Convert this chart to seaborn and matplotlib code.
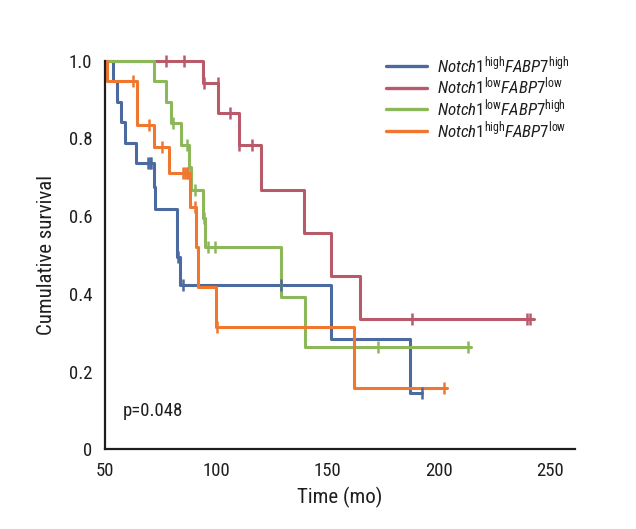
import numpy as np
import pandas as pd
import matplotlib
matplotlib.use("Agg")
import matplotlib.pyplot as plt
import seaborn as sns

# ---- data ----
groups = ["hh", "ll", "lh", "hl"]
legend_labels = [
    r"$\mathit{Notch1}^{\mathrm{high}}\mathit{FABP7}^{\mathrm{high}}$",
    r"$\mathit{Notch1}^{\mathrm{low}}\mathit{FABP7}^{\mathrm{low}}$",
    r"$\mathit{Notch1}^{\mathrm{low}}\mathit{FABP7}^{\mathrm{high}}$",
    r"$\mathit{Notch1}^{\mathrm{high}}\mathit{FABP7}^{\mathrm{low}}$",
]
colors = ["#4b6aa0", "#b95a6a", "#8db85a", "#f0772f"]

hh_time = [50, 53.7, 55.5, 57.0, 59.0, 63.8, 71.8, 72.6, 82.5, 83.6, 151.3, 187.0, 192.5]
hh_surv = [1.0, 0.947, 0.895, 0.842, 0.789, 0.737, 0.676, 0.618, 0.494, 0.423, 0.283, 0.144, 0.144]
hh_cens = [69.2, 70.0, 70.8, 82.9, 84.8, 129.1, 192.1]

ll_time = [50, 94.0, 100.9, 110.0, 120.1, 139.4, 151.3, 164.5, 242.5]
ll_surv = [1.0, 0.942, 0.865, 0.783, 0.667, 0.556, 0.445, 0.335, 0.335]
ll_cens = [77.2, 85.4, 94.5, 100.7, 106.0, 110.3, 116.1, 187.6, 239.3, 241.0]

lh_time = [50, 72.1, 77.6, 79.6, 83.9, 87.6, 88.6, 93.9, 94.8, 129.1, 139.6, 214.3]
lh_surv = [1.0, 0.947, 0.893, 0.839, 0.784, 0.727, 0.667, 0.594, 0.521, 0.393, 0.264, 0.264]
lh_cens = [80.6, 86.6, 90.3, 94.3, 96.3, 99.2, 172.7, 213.0]

hl_time = [50, 50.7, 64.5, 71.9, 78.8, 88.0, 91.0, 91.7, 99.7, 161.6, 203.7]
hl_surv = [1.0, 0.947, 0.835, 0.779, 0.712, 0.624, 0.520, 0.418, 0.315, 0.157, 0.157]
hl_cens = [62.7, 69.8, 75.8, 85.0, 85.8, 86.6, 87.4, 90.2, 100.3, 202.3]

times = [hh_time, ll_time, lh_time, hl_time]
survs = [hh_surv, ll_surv, lh_surv, hl_surv]
censs = [hh_cens, ll_cens, lh_cens, hl_cens]

x_ticks = [50, 100, 150, 200, 250]
y_ticks = [0, 0.2, 0.4, 0.6, 0.8, 1.0]
y_ticklabels = ["0", "0.2", "0.4", "0.6", "0.8", "1.0"]
p_text = "p=0.048"

# ---- style ----
sns.set_style("white")
fam = ["Roboto Condensed", "Roboto", "DejaVu Sans"]
plt.rcParams["font.family"] = fam
plt.rcParams["mathtext.fontset"] = "custom"
plt.rcParams["mathtext.rm"] = "Roboto Condensed"
plt.rcParams["mathtext.it"] = "Roboto Condensed:italic"
plt.rcParams["mathtext.bf"] = "Roboto Condensed:bold"

ink = "#1e1e1e"
fig = plt.figure(figsize=(6.36, 5.29), dpi=100)
ax = fig.add_axes([105 / 636, 1 - 449.3 / 529, (575 - 105) / 636, (449.3 - 60.7) / 529])

handles = []
for g, t, s, c, col, lab in zip(groups, times, survs, censs, colors, legend_labels):
    df = pd.DataFrame({"time": t, "surv": s})
    sns.lineplot(data=df, x="time", y="surv", ax=ax, estimator=None, sort=False,
                 drawstyle="steps-post", color=col, linewidth=2.2, clip_on=False)
    handles.append((ax.lines[-1], lab))
    t_arr = np.array(t)
    s_arr = np.array(s)
    idx = np.searchsorted(t_arr, np.array(c), side="right") - 1
    cdf = pd.DataFrame({"time": c, "surv": s_arr[idx]})
    sns.scatterplot(data=cdf, x="time", y="surv", ax=ax, marker="|", s=80,
                    linewidth=1.8, color=col, clip_on=False, zorder=3)

ax.set_xlim(50, 261)
ax.set_ylim(0, 1.0)
ax.set_xticks(x_ticks)
ax.set_xticklabels([str(v) for v in x_ticks])
ax.set_yticks(y_ticks)
ax.set_yticklabels(y_ticklabels)
ax.tick_params(axis="both", direction="out", length=6, width=1.6, labelsize=13.5,
               color=ink, labelcolor=ink, pad=3)
for sp in ["top", "right"]:
    ax.spines[sp].set_visible(False)
for sp in ["left", "bottom"]:
    ax.spines[sp].set_linewidth(1.6)
    ax.spines[sp].set_color(ink)

ax.set_xlabel("Time (mo)", fontsize=15, color=ink, labelpad=5)
ax.set_ylabel("Cumulative survival", fontsize=15, color=ink, labelpad=9)

ax.text(58, 0.098, p_text, fontsize=13.5, color=ink, va="center", ha="left")

leg = ax.legend([h for h, _ in handles], [l for _, l in handles],
                loc="upper left", bbox_to_anchor=(386 / 636, 1 - 54 / 529),
                bbox_transform=fig.transFigure, frameon=False, fontsize=12.2,
                handlelength=2.4, handletextpad=0.6, labelspacing=-0.02,
                borderpad=0, borderaxespad=0)
for line in leg.get_lines():
    line.set_linewidth(2.4)
for txt in leg.get_texts():
    txt.set_color(ink)

fig.savefig("out.png", dpi=100)
